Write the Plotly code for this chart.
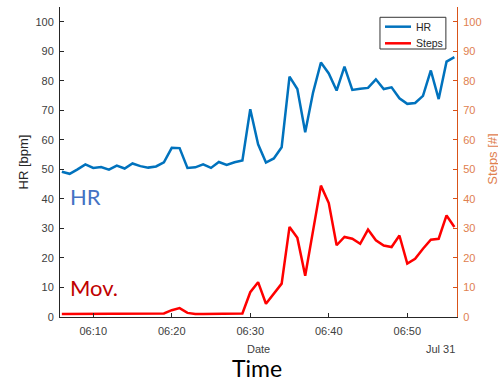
import plotly.graph_objects as go

times = [f"2021-07-31 06:{m:02d}:00" for m in range(6, 57)]

hr = [49.2, 48.5, 50.0, 51.7, 50.5, 50.8, 49.9, 51.3, 50.3, 52.0,
      51.1, 50.6, 51.0, 52.4, 57.3, 57.2, 50.5, 50.7, 51.7, 50.5,
      52.5, 51.5, 52.4, 53.0, 70.4, 58.5, 52.3, 53.7, 57.5, 81.4,
      77.2, 62.6, 76.0, 86.2, 82.5, 76.7, 84.8, 76.9, 77.3, 77.6,
      80.5, 77.2, 77.8, 74.1, 72.2, 72.5, 74.9, 83.5, 73.8, 86.5, 88.0]

steps = [1.0, 1.0, 1.0, 1.0, 1.0, 1.0, 1.0, 1.0, 1.0, 1.0,
         1.0, 1.0, 1.0, 1.2, 2.3, 3.0, 1.4, 1.0, 1.0, 1.0,
         1.0, 1.0, 1.0, 1.2, 8.4, 11.8, 4.5, 7.9, 11.3, 30.5,
         26.8, 14.0, 29.6, 44.5, 38.6, 24.3, 27.1, 26.5, 24.8, 29.6,
         26.0, 24.2, 23.7, 27.6, 18.1, 19.7, 23.1, 26.2, 26.5, 34.4, 30.5]

y_ticks = list(range(0, 101, 10))
series_names = ["HR", "Steps"]
series_colors = ["#0072BD", "#FF0000"]

ORANGE = "#D95319"
ORANGE_TXT = "#E0804F"

fig = go.Figure()
fig.add_trace(go.Scatter(x=times, y=hr, mode="lines", name=series_names[0],
                         line=dict(color=series_colors[0], width=2.5), yaxis="y"))
fig.add_trace(go.Scatter(x=times, y=steps, mode="lines", name=series_names[1],
                         line=dict(color=series_colors[1], width=2.5), yaxis="y2"))

font_ax = "Liberation Sans, Arial, sans-serif"

fig.update_layout(
    width=498, height=384,
    margin=dict(l=60, r=41, t=7, b=67),
    paper_bgcolor="white", plot_bgcolor="white",
    showlegend=False,
    xaxis=dict(
        type="date", automargin=False,
        range=["2021-07-31 06:05:46", "2021-07-31 06:56:20"],
        tick0="2021-07-31 06:10:00", dtick=600000, tickformat="%H:%M",
        showgrid=False, zeroline=False,
        showline=True, linecolor="#262626", linewidth=1,
        ticks="inside", ticklen=4, tickcolor="#262626",
        tickfont=dict(family=font_ax, size=11, color="#404040"),
        ticklabelstandoff=4,
    ),
    yaxis=dict(
        range=[0, 105], tickvals=y_ticks, automargin=False,
        showgrid=False, zeroline=False,
        showline=True, linecolor="#262626", linewidth=1,
        ticks="inside", ticklen=4, tickcolor="#262626",
        tickfont=dict(family=font_ax, size=11, color="#404040"),
        ticklabelstandoff=3,
    ),
    yaxis2=dict(
        range=[0, 105], tickvals=y_ticks, overlaying="y", side="right",
        automargin=False,
        showgrid=False, zeroline=False,
        showline=True, linecolor=ORANGE, linewidth=1,
        ticks="inside", ticklen=4, tickcolor=ORANGE,
        tickfont=dict(family=font_ax, size=11, color=ORANGE_TXT),
        ticklabelstandoff=3,
    ),
)

# custom legend box (MATLAB-style, compact)
fig.add_shape(type="rect", xref="paper", yref="paper",
              x0=0.806, x1=0.972, y0=0.8645, y1=0.9668,
              line=dict(color="#333333", width=1), fillcolor="white", layer="above")
leg_y = [0.9365, 0.8829]
for name, col, yy in zip(series_names, series_colors, leg_y):
    fig.add_shape(type="line", xref="paper", yref="paper",
                  x0=0.8186, x1=0.8841, y0=yy, y1=yy,
                  line=dict(color=col, width=2.5), layer="above")
    fig.add_annotation(text=name, xref="paper", yref="paper", x=0.8917, y=yy,
                       xanchor="left", yanchor="middle", showarrow=False,
                       font=dict(family=font_ax, size=10.5, color="#262626"))

ann = [
    dict(text="HR [bpm]", x=-0.092, y=0.5, textangle=-90,
         font=dict(family=font_ax, size=13, color="#262626")),
    dict(text="Steps [#]", x=1.09, y=0.51, textangle=-90,
         font=dict(family=font_ax, size=13, color=ORANGE_TXT)),
    dict(text="Date", x=0.5, y=-0.102,
         font=dict(family=font_ax, size=11, color="#404040")),
    dict(text="Jul 31", x=1.0, y=-0.102, xanchor="right",
         font=dict(family=font_ax, size=11, color="#404040")),
    dict(text="Time", x=0.495, y=-0.163,
         font=dict(family="Lato, sans-serif", size=23, color="black")),
    dict(text="HR", x=0.065, y=0.39,
         font=dict(family="Lato, sans-serif", size=22, color="#4472C4")),
    dict(text="Mov.", x=0.085, y=0.095,
         font=dict(family="Lato, sans-serif", size=22, color="#C00000")),
]
for a in ann:
    a.setdefault("xanchor", "center")
    a.update(xref="paper", yref="paper", showarrow=False, yanchor="middle")
    fig.add_annotation(**a)

fig.write_html("out.html",
               config={"displayModeBar": False},
               post_script="document.body.style.margin='0';"
                           "document.body.style.overflow='hidden';")
